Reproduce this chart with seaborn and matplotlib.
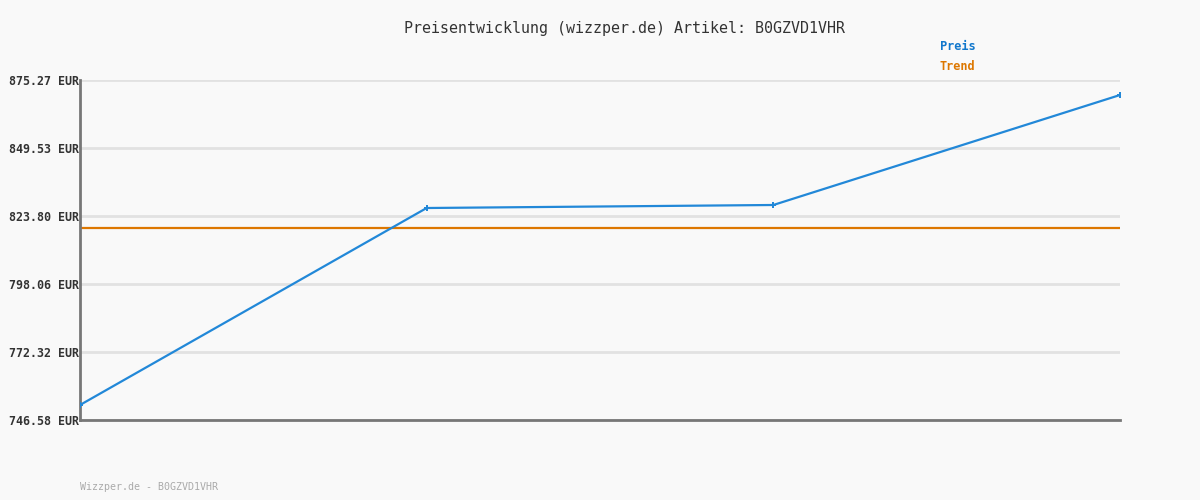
import matplotlib
matplotlib.use("Agg")
import matplotlib.pyplot as plt
import seaborn as sns
import pandas as pd

dates = ["P1", "P2", "P3", "P4"]
prices = [752.26, 826.82, 827.96, 869.59]
trend = [819.25, 819.25, 819.25, 819.25]
ytick_vals = [746.58, 772.32, 798.06, 823.80, 849.53, 875.27]
ytick_labels = ["746.58 EUR", "772.32 EUR", "798.06 EUR", "823.80 EUR", "849.53 EUR", "875.27 EUR"]

sns.set_theme(style="white")
plt.rcParams['font.family'] = ['DejaVu Sans Mono']

bg = "#f9f9f9"
fig = plt.figure(figsize=(12, 5), dpi=100, facecolor=bg)
ax = fig.add_axes([80/1200, 80/500, 1040/1200, 340/500])
ax.set_facecolor(bg)

df = pd.DataFrame({"x": range(len(dates)), "price": prices, "trend": trend})
for v in ytick_vals:
    ax.axhline(v, color="#e2e2e2", lw=2, zorder=0)
sns.lineplot(data=df, x="x", y="trend", ax=ax, color="#dd7700", lw=1.6, zorder=2)
sns.lineplot(data=df, x="x", y="price", ax=ax, color="#2288d8", lw=1.6,
             marker="P", markersize=5, markeredgewidth=0, zorder=3)

ax.set_xlim(0, len(dates) - 1)
ax.set_ylim(ytick_vals[0], ytick_vals[-1])
ax.set_yticks(ytick_vals)
ax.set_yticklabels(ytick_labels, fontsize=8.4, fontweight="bold", color="#333333")
ax.set_xticks([])
ax.tick_params(axis="y", length=0, pad=1)
ax.set_xlabel("")
ax.set_ylabel("")
for s in ["top", "right"]:
    ax.spines[s].set_visible(False)
for s in ["left", "bottom"]:
    ax.spines[s].set_color("#777777")
    ax.spines[s].set_linewidth(2)

fig.text(624/1200, 1 - 28/500, "Preisentwicklung (wizzper.de) Artikel: B0GZVD1VHR",
         ha="center", va="center", fontsize=10.8, color="#333333")
fig.text(940/1200, 1 - 47/500, "Preis", ha="left", va="center", fontsize=8.6,
         fontweight="bold", color="#1177cc")
fig.text(940/1200, 1 - 67/500, "Trend", ha="left", va="center", fontsize=8.6,
         fontweight="bold", color="#dd7700")
fig.text(80/1200, 1 - 487/500, "Wizzper.de - B0GZVD1VHR", ha="left", va="center",
         fontsize=7.2, color="#aaaaaa")

fig.savefig("out.png", dpi=100, facecolor=bg)
